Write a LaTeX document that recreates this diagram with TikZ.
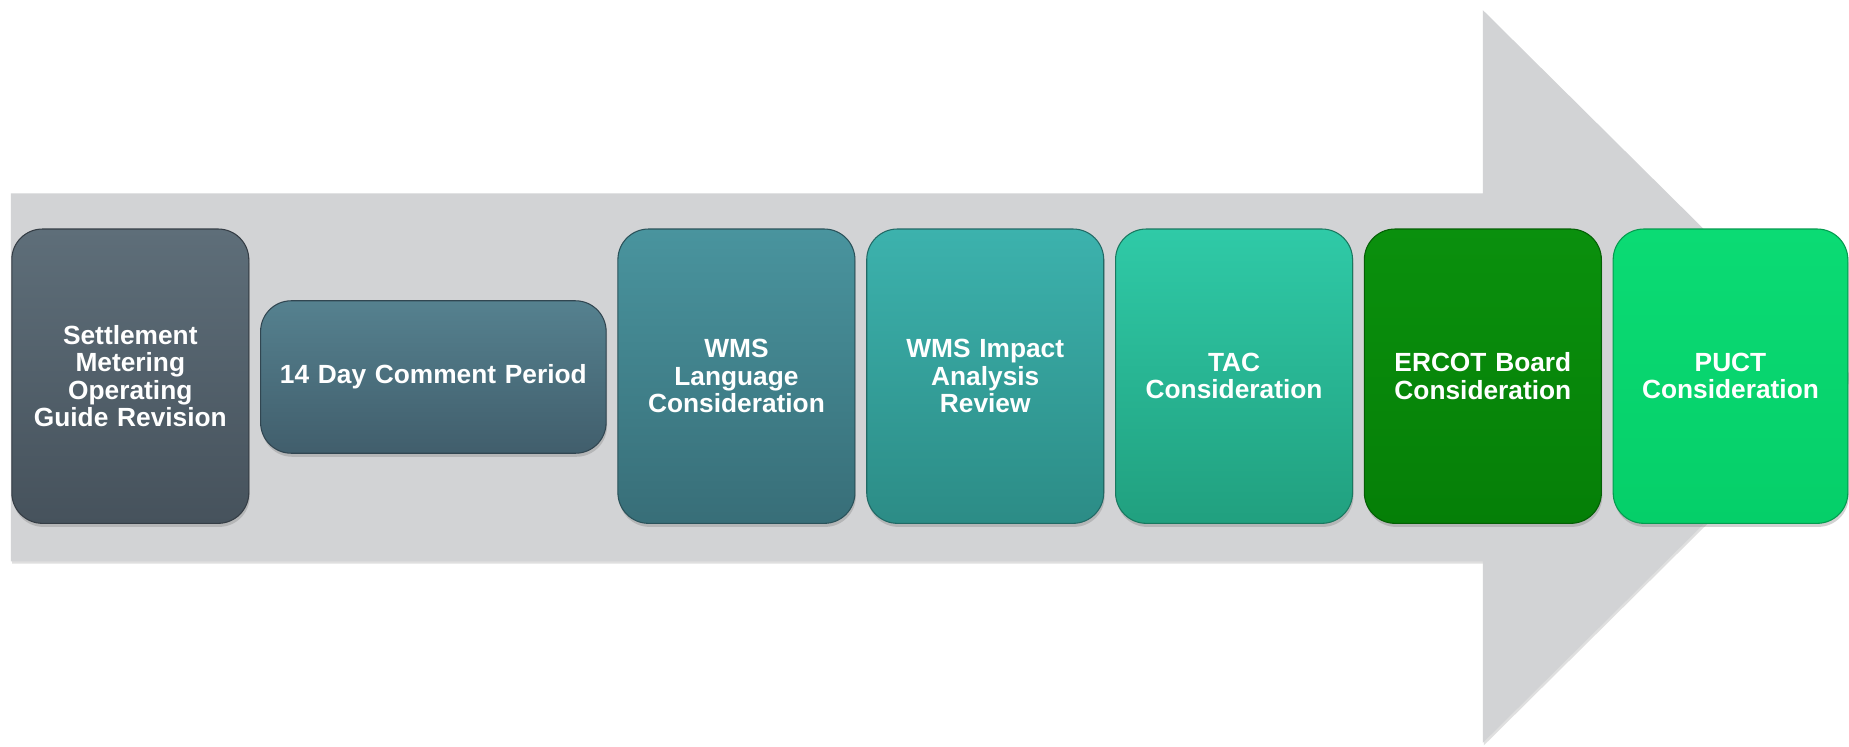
\documentclass[tikz,border=0pt]{standalone}
\usepackage{fontspec}
\setmainfont{Liberation Sans}
\usetikzlibrary{shadows}
\definecolor{arrowgrey}{HTML}{D2D3D5}
\definecolor{aT}{HTML}{5E6E79}\definecolor{aB}{HTML}{46525C}
\definecolor{bT}{HTML}{55818F}\definecolor{bB}{HTML}{415E6C}
\definecolor{cT}{HTML}{49949E}\definecolor{cB}{HTML}{386E78}
\definecolor{dT}{HTML}{3CB2AD}\definecolor{dB}{HTML}{2C8C86}
\definecolor{eT}{HTML}{2FCAA7}\definecolor{eB}{HTML}{21A07F}
\definecolor{fT}{HTML}{0A900D}\definecolor{fB}{HTML}{057F07}
\definecolor{gT}{HTML}{0BDB74}\definecolor{gB}{HTML}{05CF69}
\tikzset{
  stepbox/.style 2 args={
    rounded corners=26pt, inner sep=0pt, outer sep=0pt,
    minimum width=201pt, minimum height=249.6pt,
    top color=#1, bottom color=#2, draw=#2!75!black, line width=0.9pt,
    drop shadow={opacity=0.35, shadow xshift=0.8pt, shadow yshift=-3pt},
    text=white, align=center, text width=195pt,
    font=\bfseries\fontsize{22.3}{23.3}\selectfont},
  arrowshape/.style={fill=arrowgrey,
    drop shadow={opacity=0.25, shadow xshift=1pt, shadow yshift=-2pt}}
}
\begin{document}
\begin{tikzpicture}[x=1pt,y=-1pt]
\useasboundingbox (0,0) rectangle (1568,633);
\clip (0,0) rectangle (1568,633);
\fill[white] (0,0) rectangle (1568,633);
\path[arrowshape] (9.3,164) -- (1257.4,164) -- (1257.4,8.5) -- (1571,319.3)
  -- (1257.4,630) -- (1257.4,476) -- (9.3,476) -- cycle;
\node[stepbox={aT}{aB}] (smogr) at (110.5,319) {Settlement\\Metering\\Operating\\Guide Revision};
\node[stepbox={bT}{bB}, minimum width=293pt, minimum height=129.3pt, text width=290pt] (comment) at (367.5,319.7) {14 Day Comment Period};
\node[stepbox={cT}{cB}] (wmslang) at (624.5,319) {WMS\\Language\\Consideration};
\node[stepbox={dT}{dB}] (wmsia) at (835.5,319) {WMS Impact\\Analysis\\Review};
\node[stepbox={eT}{eB}] (tac) at (1046.5,319) {TAC\\Consideration};
\node[stepbox={fT}{fB}] (board) at (1257.5,319) {ERCOT Board\\Consideration};
\node[stepbox={gT}{gB}, minimum width=199pt] (puct) at (1467.5,319) {PUCT\\Consideration};
\end{tikzpicture}
\end{document}
